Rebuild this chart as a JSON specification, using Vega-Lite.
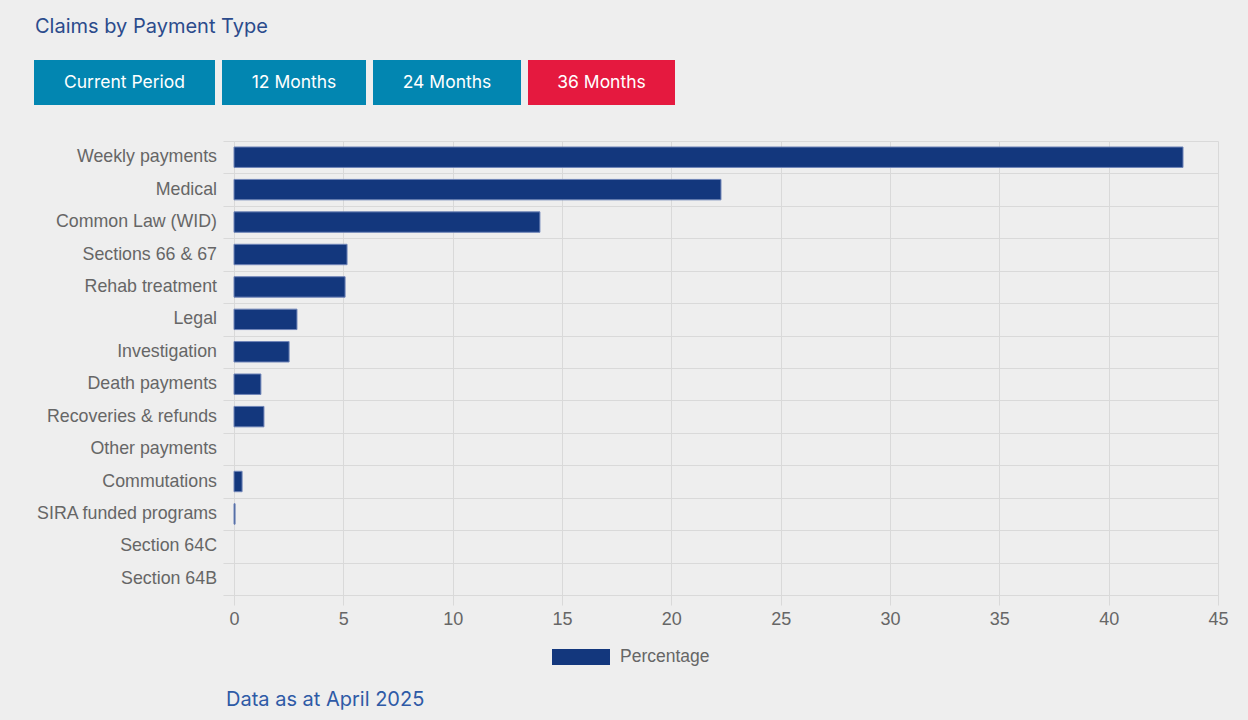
{
  "$schema": "https://vega.github.io/schema/vega-lite/v6.json",
  "background": "#eeeeee",
  "padding": {"left": 34, "top": 17, "right": 31, "bottom": 12},
  "title": {"text": "Data as at April 2025", "orient": "bottom", "anchor": "start", "frame": "group", "fontSize": 20, "font": "Inter", "fontWeight": "normal", "color": "#2e5aa6", "offset": 24, "dx": 192},
  "spacing": 35,
  "vconcat": [
    {
      "title": {"text": "Claims by Payment Type", "anchor": "start", "frame": "group", "fontSize": 20, "font": "Inter", "fontWeight": "normal", "color": "#2b4b8c", "offset": 23, "dx": 1},
      "spacing": 7,
      "hconcat": [
        {"width": 181, "height": 45, "data": {"values": [{"label": "Current Period"}]}, "mark": {"type": "text", "color": "white", "fontSize": 17.5, "font": "Inter"}, "encoding": {"text": {"field": "label"}}, "view": {"fill": "#0286b1", "stroke": null}},
        {"width": 144, "height": 45, "data": {"values": [{"label": "12 Months"}]}, "mark": {"type": "text", "color": "white", "fontSize": 17.5, "font": "Inter"}, "encoding": {"text": {"field": "label"}}, "view": {"fill": "#0286b1", "stroke": null}},
        {"width": 148, "height": 45, "data": {"values": [{"label": "24 Months"}]}, "mark": {"type": "text", "color": "white", "fontSize": 17.5, "font": "Inter"}, "encoding": {"text": {"field": "label"}}, "view": {"fill": "#0286b1", "stroke": null}},
        {"width": 147, "height": 45, "data": {"values": [{"label": "36 Months"}]}, "mark": {"type": "text", "color": "white", "fontSize": 17.5, "font": "Inter"}, "encoding": {"text": {"field": "label"}}, "view": {"fill": "#e5193f", "stroke": null}}
      ]
    },
    {
      "spacing": 0,
      "data": {"values": [
        {"type": "Weekly payments", "pct": 43.4, "series": "Percentage"},
        {"type": "Medical", "pct": 22.27, "series": "Percentage"},
        {"type": "Common Law (WID)", "pct": 13.99, "series": "Percentage"},
        {"type": "Sections 66 & 67", "pct": 5.17, "series": "Percentage"},
        {"type": "Rehab treatment", "pct": 5.08, "series": "Percentage"},
        {"type": "Legal", "pct": 2.88, "series": "Percentage"},
        {"type": "Investigation", "pct": 2.52, "series": "Percentage"},
        {"type": "Death payments", "pct": 1.23, "series": "Percentage"},
        {"type": "Recoveries & refunds", "pct": 1.37, "series": "Percentage"},
        {"type": "Other payments", "pct": 0, "series": "Percentage"},
        {"type": "Commutations", "pct": 0.37, "series": "Percentage"},
        {"type": "SIRA funded programs", "pct": 0.05, "series": "Percentage"},
        {"type": "Section 64C", "pct": 0, "series": "Percentage"},
        {"type": "Section 64B", "pct": 0, "series": "Percentage"}
      ]},
      "hconcat": [
        {
          "width": 188,
          "height": 454,
          "mark": {"type": "text", "align": "right", "baseline": "middle", "dx": -5, "fontSize": 17.8, "font": "Liberation Sans", "color": "#666666"},
          "encoding": {
            "y": {"field": "type", "type": "nominal", "sort": null, "scale": {"paddingInner": 0, "paddingOuter": 0}, "axis": null},
            "x": {"value": "width"},
            "text": {"field": "type"}
          }
        },
        {
          "width": 984,
          "height": 454,
          "mark": {"type": "bar", "height": {"band": 0.63}, "strokeWidth": 1},
          "encoding": {
            "y": {"field": "type", "type": "nominal", "sort": null,
              "scale": {"paddingInner": 0, "paddingOuter": 0},
              "axis": {"title": null, "tickBand": "extent", "grid": true, "gridColor": "#d9d9d9", "tickColor": "#d9d9d9", "tickSize": 11, "domain": false, "labels": false}},
            "x": {"field": "pct", "type": "quantitative", "scale": {"domain": [0, 45]},
              "axis": {"title": null, "values": [0, 5, 10, 15, 20, 25, 30, 35, 40, 45], "labelFlush": false, "grid": true, "gridColor": "#d9d9d9", "tickColor": "#d9d9d9", "tickSize": 10, "domainColor": "#d9d9d9", "labelFontSize": 18, "labelColor": "#666666", "labelFont": "Liberation Sans", "labelPadding": 5}},
            "stroke": {"condition": {"test": "datum.pct > 0", "value": "#7085b8"}, "value": null},
            "color": {"field": "series", "type": "nominal", "scale": {"range": ["#13377d"]},
              "legend": {"title": null, "orient": "bottom", "direction": "horizontal", "symbolType": "M-1,-0.276L1,-0.276L1,0.276L-1,0.276Z", "symbolSize": 3364, "symbolStrokeWidth": 0, "symbolOpacity": 1, "labelFontSize": 17.5, "labelColor": "#666666", "labelFont": "Liberation Sans", "labelOffset": 10, "offset": 0}}
          }
        }
      ]
    }
  ],
  "config": {
    "view": {"stroke": null},
    "legend": {"layout": {"bottom": {"anchor": "middle"}}}
  }
}
